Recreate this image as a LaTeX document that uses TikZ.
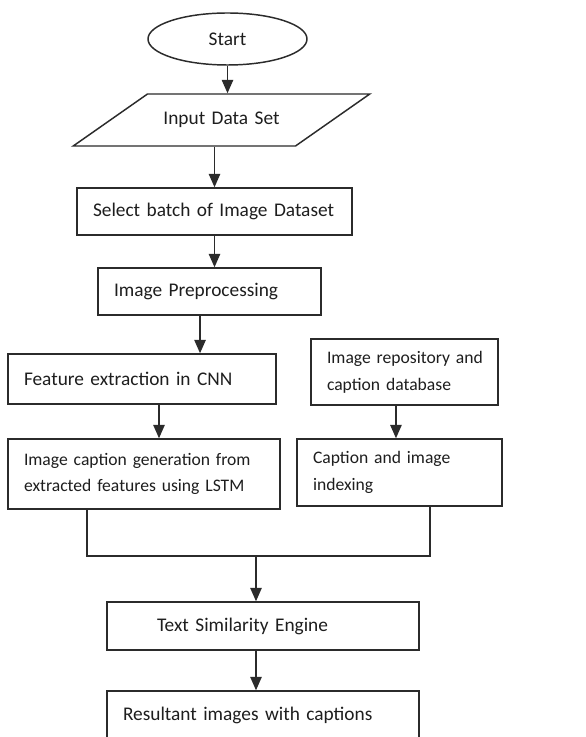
\documentclass[tikz,border=0pt]{standalone}
\usepackage{fontspec}
\setmainfont{Carlito}
\usepackage{tikz}
\usetikzlibrary{arrows.meta,positioning,calc,shapes.geometric}
\definecolor{LineGray}{HTML}{2B2B2B}
\definecolor{TextGray}{HTML}{1E1E1E}

\begin{document}
\begin{tikzpicture}[x=.75pt,y=-.75pt,>={Triangle[length=10pt,width=8.5pt]},
  every node/.style={text=TextGray,font=\fontsize{14.5}{20}\selectfont},
  box/.style={draw=LineGray,line width=1.1pt,align=left,inner xsep=12pt,inner ysep=0pt},
  smalltext/.style={font=\fontsize{13.2}{20}\selectfont},
  link/.style={->,draw=LineGray,line width=1.1pt}]
  \useasboundingbox[fill=white] (0,0) rectangle (585,737);
  \clip (0,0) rectangle (585,737);

  % Terminal y entrada
  \node[draw=LineGray,line width=1.1pt,ellipse,minimum width=119.25pt,minimum height=39pt,inner sep=0pt]
        (start) at (227.5,39) {Start};
  \node[draw=LineGray,line width=1.1pt,trapezium,trapezium left angle=35,trapezium right angle=145,
        text width=111pt,align=center,text height=10pt,text depth=3pt,inner xsep=0pt,inner ysep=13pt]
        (input) at (221.5,120) {Input Data Set};

  % Cadena principal
  \node[box,text width=182.25pt,minimum height=35.25pt] (select) at (214.5,211.5) {\mbox{Select batch of Image Dataset}};
  \node[box,text width=143.25pt,minimum height=35.25pt] (prep) at (209.5,291.5) {\mbox{Image Preprocessing}};
  \node[box,text width=177pt,minimum height=37.5pt] (cnn) at (142,379) {\mbox{Feature extraction in CNN}};
  \node[box,smalltext,text width=180pt,minimum height=52.5pt] (lstm) at (144,474)
        {\mbox{Image caption generation from}\\\mbox{extracted features using LSTM}};

  % Rama del repositorio
  \node[box,smalltext,text width=116.25pt,minimum height=49.5pt] (repo) at (404.5,372)
        {\mbox{Image repository and}\\\mbox{caption database}};
  \node[box,smalltext,text width=129.75pt,minimum height=50.25pt] (index) at (399.5,472.5)
        {\mbox{Caption and image}\\\mbox{indexing}};

  \node[box,inner xsep=37.5pt,text width=159pt,minimum height=36pt] (engine) at (263,626) {\mbox{Text Similarity Engine}};
  \node[box,text width=210pt,minimum height=36pt] (result) at (263,715) {\mbox{Resultant images with captions}};

  \coordinate (mergeL) at (87,556);
  \coordinate (mergeR) at (430,556);
  \coordinate (join) at (256,556);

  \draw[link] (start.south) -- (start.south |- input.north);
  \draw[link] (select.north |- input.south) -- (select.north);
  \draw[link] (select.south) -- (select.south |- prep.north);
  \draw[link] ([xshift=-7.1pt]prep.south) -- ([xshift=-7.1pt]prep.south |- cnn.north);
  \draw[link] ([xshift=12.75pt]cnn.south) -- ([xshift=12.75pt]cnn.south |- lstm.north);
  \draw[link] ([xshift=-6.4pt]repo.south) -- ([xshift=-6.4pt]repo.south |- index.north);
  \draw[draw=LineGray,line width=1.1pt] (lstm.south -| mergeL) -- (mergeL) -- (mergeR) -- (index.south -| mergeR);
  \draw[link] (join) -- (join |- engine.north);
  \draw[link] (join |- engine.south) -- (join |- result.north);
\end{tikzpicture}
\end{document}
